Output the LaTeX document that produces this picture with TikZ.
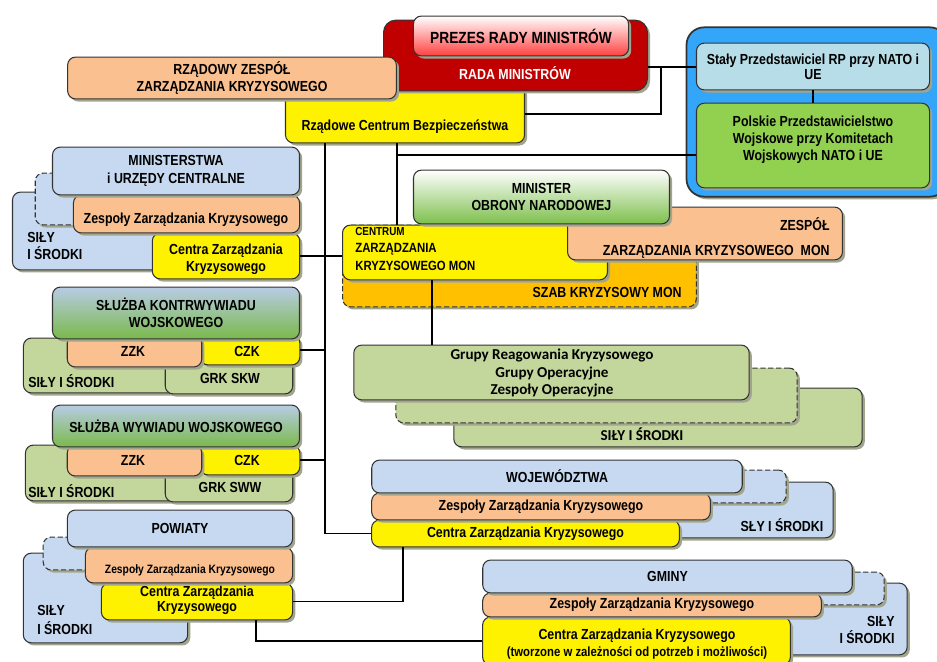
\documentclass[tikz,border=0pt]{standalone}
\usepackage{fontspec}
\setmainfont{Liberation Sans}[FakeStretch=0.85]
\newfontfamily\calibri{Carlito}
\usetikzlibrary{shadows}
\definecolor{darkred}{HTML}{C00000}
\definecolor{prezred}{HTML}{FF4040}
\definecolor{salmon}{HTML}{FAC090}
\definecolor{lblue}{HTML}{C6D9F1}
\definecolor{olive}{HTML}{C3D69B}
\definecolor{orng}{HTML}{FFC000}
\definecolor{natoblue}{HTML}{33A6FA}
\definecolor{palecyan}{HTML}{B7DEE8}
\definecolor{lgreen}{HTML}{92D050}
\definecolor{mongreen}{HTML}{7DBF4C}
\definecolor{skwblue}{HTML}{B8CCE4}
\definecolor{skwgreen}{HTML}{7AB94B}
\definecolor{shadowgray}{HTML}{A2A58E}
% box from corner (x1,y1) to (x2,y2), in pixels
\newcommand\pbox[7]{%
  \node[box, #2, minimum width={(#5-#3)*0.5669pt}, minimum height={(#6-#4)*0.5669pt}]
    (#1) at ({(#3+#5)/2},{(#4+#6)/2}) {#7};}
\begin{document}
\begin{tikzpicture}[x=0.02cm, y=-0.02cm,
  box/.style={draw=black!80, line width=.6pt, rounded corners=4.5pt, inner sep=0pt, align=center,
    font=\bfseries\fontsize{8.3}{9.8}\selectfont,
    drop shadow={shadow xshift=1.5pt, shadow yshift=-1.5pt, fill=shadowgray, opacity=1}},
  dbox/.style={dash pattern=on 3pt off 1.5pt},
  txt/.style={font=\bfseries\fontsize{8.3}{9.8}\selectfont, inner sep=0pt, align=center},
  cal/.style={font=\calibri\bfseries\fontsize{8.6}{10.2}\selectfont},
  conn/.style={line width=1.1pt, black}]
\useasboundingbox (0,0) rectangle (937,662);
%%%%%%%%% NATO
\pbox{nato}{fill=natoblue, rounded corners=10pt, line width=1pt}{686}{27}{948}{197}{}
\pbox{staly}{fill=palecyan}{696}{43}{930}{90}{Stały Przedstawiciel RP przy NATO i\\[-1.5pt]UE}
\pbox{polskie}{fill=lgreen}{696}{103}{930}{188}{}
\node[txt] (polskie-t) at (813,140) {Polskie Przedstawicielstwo\\Wojskowe przy Komitetach\\Wojskowych NATO i UE};
%%%%%%%%% government
\pbox{rcb}{fill=yellow}{285}{85}{525}{143}{}
\node[txt] (rcb-t) at (405,127) {Rządowe Centrum Bezpieczeństwa};
\pbox{rada}{fill=darkred, rounded corners=7pt}{383}{20}{648}{91}{}
\node[txt, white] (rada-t) at (515,73) {RADA MINISTRÓW};
\pbox{prezes}{top color=white, bottom color=prezred, font=\bfseries\fontsize{9.2}{11}\selectfont}{413}{16}{629}{56}{PREZES RADY MINISTRÓW}
\pbox{rzzk}{fill=salmon}{67}{57}{397}{99}{RZĄDOWY ZESPÓŁ\\ZARZĄDZANIA KRYZYSOWEGO}
%%%%%%%%% MON
\pbox{szab}{dbox, fill=orng}{342}{225}{697}{307}{}
\node[txt, anchor=east] (szab-t) at (682,292) {SZAB KRYZYSOWY MON};
\pbox{czkmon}{fill=yellow}{342}{225}{608}{280}{}
\node[txt, anchor=west, align=left, font=\bfseries\fontsize{7.6}{9.8}\selectfont] (czkmon-t) at (355,249)
  {{\fontsize{6.6}{8}\selectfont CENTRUM}\\ZARZĄDZANIA\\KRYZYSOWEGO MON};
\pbox{zmon}{fill=salmon}{567}{207}{843}{260}{}
\node[txt, anchor=east, align=right] (zmon-t) at (830,238) {ZESPÓŁ\\[4pt]ZARZĄDZANIA KRYZYSOWEGO\ \ MON};
\pbox{mon}{top color=white, bottom color=mongreen}{413}{170}{670}{224}{MINISTER\\OBRONY NARODOWEJ}
%%%%%%%%% ministerstwa
\pbox{minsil}{fill=lblue}{12}{192}{250}{270}{}
\node[txt, anchor=west, align=left] (minsil-t) at (27,246) {SIŁY\\I ŚRODKI};
\pbox{mindash}{dbox, fill=lblue}{35}{173}{150}{225}{}
\pbox{czkmin}{fill=yellow}{152}{233}{300}{279}{}
\node[txt] (czkmin-t) at (226,259) {Centra Zarządzania\\Kryzysowego};
\pbox{zzkmin}{fill=salmon}{73}{195}{300}{233}{}
\node[txt] (zzkmin-t) at (186,220) {Zespoły Zarządzania Kryzysowego};
\pbox{min}{fill=lblue}{52}{147}{300}{195}{MINISTERSTWA\\i URZĘDY CENTRALNE}
%%%%%%%%% SKW
\pbox{skwsil}{fill=olive}{23}{338}{250}{393}{}
\node[txt, anchor=west] (skwsil-t) at (28,381) {SIŁY I ŚRODKI};
\pbox{grkskw}{fill=olive}{165}{345}{293}{394}{}
\node[txt] (grkskw-t) at (230,378) {GRK SKW};
\pbox{czkskw}{fill=yellow}{200}{335}{300}{365}{}
\node[txt] (czkskw-t) at (247,351) {CZK};
\pbox{zzkskw}{fill=salmon}{67}{335}{202}{367}{}
\node[txt] (zzkskw-t) at (133,351) {ZZK};
\pbox{skw}{top color=skwblue, bottom color=skwgreen}{52}{287}{300}{339}{SŁUŻBA KONTRWYWIADU\\WOJSKOWEGO}
%%%%%%%%% SWW
\pbox{swwsil}{fill=olive}{25}{445}{250}{501}{}
\node[txt, anchor=west] (swwsil-t) at (28,491) {SIŁY I ŚRODKI};
\pbox{grksww}{fill=olive}{165}{455}{293}{502}{}
\node[txt] (grksww-t) at (230,487) {GRK SWW};
\pbox{czksww}{fill=yellow}{200}{445}{300}{475}{}
\node[txt] (czksww-t) at (247,460) {CZK};
\pbox{zzksww}{fill=salmon}{67}{445}{202}{476}{}
\node[txt] (zzksww-t) at (133,460) {ZZK};
\pbox{sww}{top color=skwblue, bottom color=skwgreen}{52}{405}{300}{447}{SŁUŻBA WYWIADU WOJSKOWEGO}
%%%%%%%%% powiaty
\pbox{powsil}{fill=lblue}{23}{553}{188}{643}{}
\node[txt, anchor=west, align=left] (powsil-t) at (37,620) {SIŁY\\[1pt]I ŚRODKI};
\pbox{powdash}{dbox, fill=lblue}{43}{537}{150}{570}{}
\pbox{czkpow}{fill=yellow}{101}{583}{293}{620}{}
\node[txt] (czkpow-t) at (197,600) {Centra Zarządzania\\[-1pt]Kryzysowego};
\pbox{zzkpow}{fill=salmon}{85}{547}{293}{583}{}
\node[txt, font=\bfseries\fontsize{6.9}{8}\selectfont] (zzkpow-t) at (190,570) {Zespoły Zarządzania Kryzysowego};
\pbox{pow}{fill=lblue}{67}{510}{293}{547}{POWIATY}
%%%%%%%%% grupy
\pbox{grsil}{fill=olive}{453}{388}{863}{447}{}
\node[txt, cal] (grsil-t) at (642,434) {SIŁY I ŚRODKI};
\pbox{grdash}{dbox, fill=olive}{395}{368}{798}{423}{}
\pbox{grupy}{fill=olive}{353}{345}{750}{400}{}
\node[txt, cal] (grupy-t) at (552,373) {Grupy Reagowania Kryzysowego\\Grupy Operacyjne\\Zespoły Operacyjne};
%%%%%%%%% wojewodztwa
\pbox{wojsil}{fill=lblue}{400}{482}{834}{538}{}
\node[txt] (wojsil-t) at (782,525) {SŁY I ŚRODKI};
\pbox{wojdash}{dbox, fill=lblue}{390}{470}{787}{503}{}
\pbox{czkwoj}{fill=yellow}{371}{520}{680}{547}{Centra Zarządzania Kryzysowego}
\pbox{zzkwoj}{fill=salmon}{371}{493}{711}{520}{Zespoły Zarządzania Kryzysowego}
\pbox{woj}{fill=lblue}{371}{460}{743}{493}{WOJEWÓDZTWA}
%%%%%%%%% gminy
\pbox{gmsil}{fill=lblue}{500}{583}{908}{655}{}
\node[txt, anchor=east, align=right] (gmsil-t) at (895,630) {SIŁY\\I ŚRODKI};
\pbox{gmdash}{dbox, fill=lblue}{490}{572}{885}{605}{}
\pbox{czkgm}{fill=yellow}{482}{617}{791}{665}{}
\node[txt] (czkgm-t) at (637,644) {Centra Zarządzania Kryzysowego\\{\fontsize{7.6}{9}\selectfont (tworzone w zależności od potrzeb i możliwości)}};
\pbox{zzkgm}{fill=salmon}{482}{593}{822}{617}{Zespoły Zarządzania Kryzysowego}
\pbox{gm}{fill=lblue}{482}{560}{853}{593}{GMINY}
%%%%%%%%% connectors
\coordinate (j1) at (661,67);
\coordinate (j2) at (397,155);
\coordinate (spine) at (325,0);
\coordinate (j4) at (432,0);
\coordinate (j5) at (403,597);
\coordinate (j6) at (256,643);
\draw [conn] (rada.east |- j1) -- (staly.west |- j1);
\draw [conn] (rcb.east) -| (j1);
\draw [conn] (rcb.south -| j2) -- (czkmon.north -| j2);
\draw [conn] (j2) -- (polskie.west |- j2);
\draw [conn] (rcb.south -| spine) |- (czkwoj.west);
\draw [conn] (czkmin.east) -- (czkmon.west |- czkmin.east);
\draw [conn] (czkskw.east) -- (spine |- czkskw.east);
\draw [conn] (czksww.east) -- (spine |- czksww.east);
\draw [conn] (czkmon.south -| j4) -- (grupy.north -| j4);
\draw [conn] (czkwoj.south -| j5) |- (czkpow.east);
\draw [conn] (czkpow.south -| j6) |- (czkgm.west);
\draw [line width=.6pt] (staly.south) -- (polskie.north);
\end{tikzpicture}
\end{document}
